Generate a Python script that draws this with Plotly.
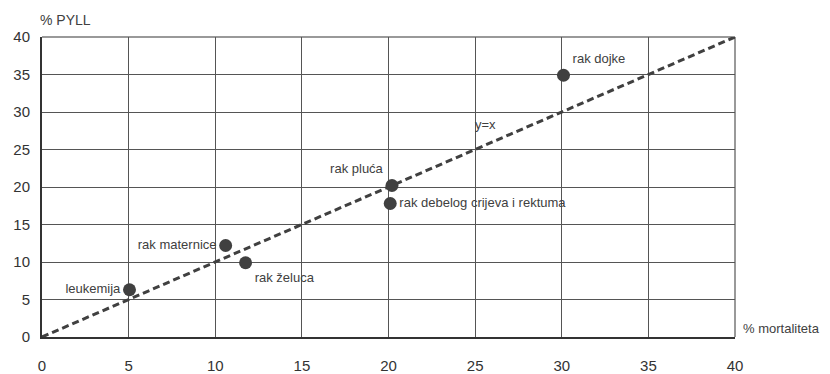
import plotly.graph_objects as go

labels = ["leukemija", "rak maternice", "rak želuca", "rak pluća",
          "rak debelog crijeva i rektuma", "rak dojke"]
mortalitet = [5.05, 10.6, 11.75, 20.2, 20.1, 30.1]
pyll = [6.3, 12.2, 9.9, 20.2, 17.8, 34.9]
label_pos = ["middle left", "middle left", "bottom right", "top left",
             "middle right", "top right"]
ref_x = [0, 40]
ref_y = [0, 40]
ticks = [0, 5, 10, 15, 20, 25, 30, 35, 40]

FONT = "Liberation Sans Narrow, Arial Narrow, Liberation Sans, Arial, sans-serif"
DARK = "#404040"

fig = go.Figure()
fig.add_trace(go.Scatter(x=ref_x, y=ref_y, mode="lines",
                         line=dict(color=DARK, width=3, dash="7px,4px"),
                         hoverinfo="skip", showlegend=False, cliponaxis=False))
fig.add_trace(go.Scatter(x=mortalitet, y=pyll, mode="markers+text",
                         text=labels, textposition=label_pos,
                         textfont=dict(family=FONT, size=13, color="#404040"),
                         marker=dict(size=13, color=DARK),
                         showlegend=False, cliponaxis=False))

fig.add_annotation(x=25.6, y=28.3, text="y=x", showarrow=False,
                   font=dict(family=FONT, size=13, color="#404040"))
fig.add_annotation(xref="paper", yref="paper", x=0, y=1, xanchor="left",
                   yanchor="bottom", yshift=7, xshift=-4, text="% PYLL",
                   showarrow=False,
                   font=dict(family=FONT, size=14, color="#404040"))
fig.add_annotation(xref="paper", yref="paper", x=1, y=0, xanchor="left",
                   yanchor="middle", xshift=6, yshift=9, text="% mortaliteta",
                   showarrow=False,
                   font=dict(family=FONT, size=13, color="#404040"))

fig.update_xaxes(range=[0, 40], tickvals=ticks, showgrid=True, gridcolor="#555555",
                 gridwidth=1, zeroline=False, showline=True, linecolor="#333333",
                 linewidth=2, mirror=False, ticks="", ticklabelstandoff=14,
                 automargin=False,
                 tickfont=dict(family=FONT, size=15, color="#333333"))
fig.update_yaxes(range=[0, 40], tickvals=ticks, showgrid=True, gridcolor="#555555",
                 gridwidth=1, zeroline=False, showline=True, linecolor="#333333",
                 linewidth=2, ticks="", ticklabelstandoff=7, automargin=False,
                 tickfont=dict(family=FONT, size=15, color="#333333"))

fig.add_shape(type="line", xref="paper", yref="paper", x0=0, x1=1, y0=1, y1=1,
              line=dict(color="#999999", width=2), layer="below")
fig.add_shape(type="line", xref="paper", yref="paper", x0=1, x1=1, y0=0, y1=1,
              line=dict(color="#999999", width=2), layer="below")

fig.update_layout(width=830, height=374, margin=dict(l=34, r=103, t=29, b=45),
                  plot_bgcolor="white", paper_bgcolor="white",
                  font=dict(family=FONT))
fig.write_html("out.html")
